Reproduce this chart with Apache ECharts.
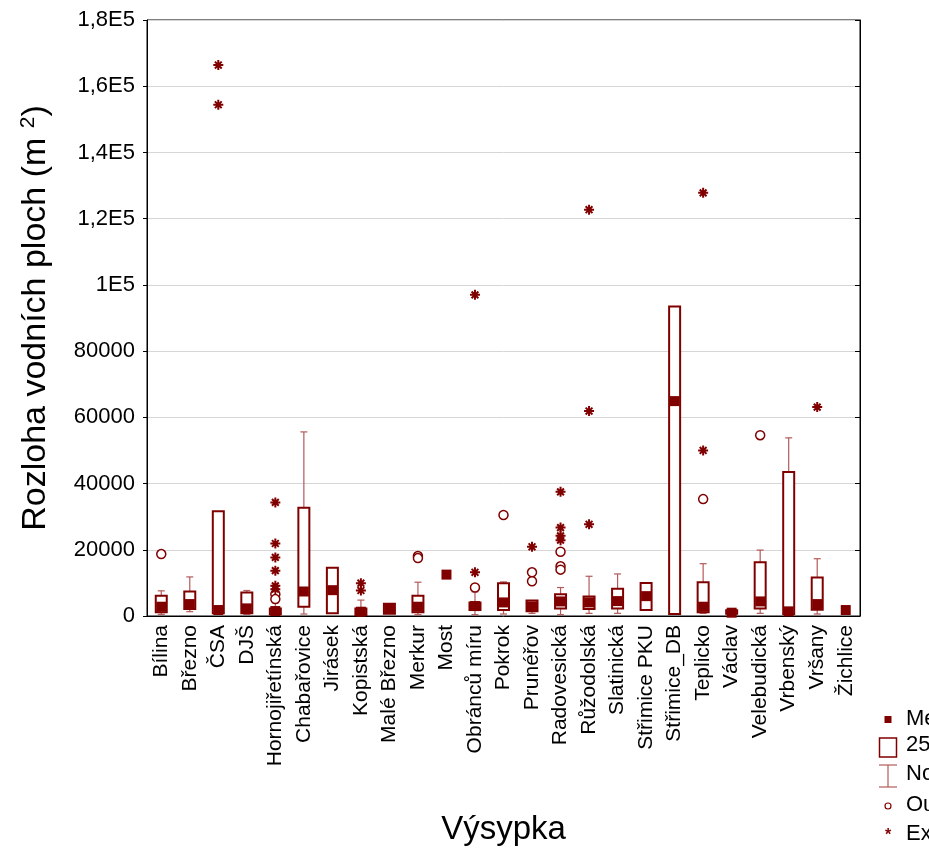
<!DOCTYPE html>
<html><head><meta charset="utf-8">
<script src="https://cdn.jsdelivr.net/npm/echarts@6/dist/echarts.min.js"></script>
<style>html,body{margin:0;padding:0;background:#fff;}#c{width:929px;height:851px;}</style>
</head><body><div id="c"></div>
<script>
const categories = ['Bílina','Březno','ČSA','DJŠ','Hornojiřetínská','Chabařovice','Jirásek','Kopistská','Malé Březno','Merkur','Most','Obránců míru','Pokrok','Prunéřov','Radovesická','Růžodolská','Slatinická','Střimice PKU','Střimice_DB','Teplicko','Václav','Velebudická','Vrbenský','Vršany','Žichlice'];
const q1Values      = [1100, 2100,  800,  800,  500,  2800,   800,  300,  700, 1100, null, 1800, 1800, 1400, 2300, 2100, 2300,  1800,   600,  1100,  700,  2300,   600,  1900, null];
const q3Values      = [6100, 7400, 31600, 7100, 2300, 32700, 14600, 2300, 3700, 6100, null, 4100, 9900, 4700, 6600, 5900, 8200, 10000, 93500, 10200, 1700, 16200, 43500, 11600, null];
const medianValues  = [2800, 3600, 1800, 2300, 1500,  7400,  7800, 1300, 2200, 2800, 12500, 3000, 4100, 2900, 4400, 4100, 4500,  6000, 64900,  2800, 1000,  4400,  1400,  3600, 1800];
const whiskerLow    = [ 500, 1300,  500,  500,  200,   600,   800,  300,  700,  400, null,  400,  600,  800,  400,  800,  800,  1800,   600,   800,  300,   800,   400,   600, null];
const whiskerHigh   = [7600, 11800, 31600, 7700, 4000, 55600, 14600, 4800, 3700, 10200, null, 7300, 10300, 4700, 8600, 12000, 12700, 10000, 93500, 15800, 1900, 19900, 53800, 17300, null];
const outlierPoints = [
  ['Bílina', 18700], ['Hornojiřetínská', 6600], ['Hornojiřetínská', 5100],
  ['Merkur', 18100], ['Merkur', 17500], ['Obránců míru', 8600], ['Pokrok', 30500],
  ['Prunéřov', 13200], ['Prunéřov', 10500],
  ['Radovesická', 19400], ['Radovesická', 15000], ['Radovesická', 14000],
  ['Teplicko', 35300], ['Velebudická', 54600]
];
const extremePoints = [
  ['ČSA', 166400], ['ČSA', 154400],
  ['Hornojiřetínská', 34300], ['Hornojiřetínská', 21900], ['Hornojiřetínská', 17700], ['Hornojiřetínská', 13700], ['Hornojiřetínská', 9100], ['Hornojiřetínská', 8100],
  ['Kopistská', 9900], ['Kopistská', 7700],
  ['Obránců míru', 97000], ['Obránců míru', 13200],
  ['Prunéřov', 20900],
  ['Radovesická', 37500], ['Radovesická', 26700], ['Radovesická', 24200], ['Radovesická', 22900],
  ['Růžodolská', 122700], ['Růžodolská', 61900], ['Růžodolská', 27700],
  ['Teplicko', 127800], ['Teplicko', 50000],
  ['Vršany', 63100]
];
const yTicks = {min: 0, max: 180000, interval: 20000};
const legendLabels = ['Median', '25%-75%', 'Non-Outlier Range', 'Outliers', 'Extremes'];

const DARK = '#800000', LIGHT = '#b35a5a';
const FONT = '"Liberation Sans", Arial, sans-serif';

const boxData = categories.map((c, i) => [i, q1Values[i], q3Values[i]]);
const whiskerData = categories.map((c, i) => [i, whiskerLow[i], whiskerHigh[i], q1Values[i], q3Values[i]]);
const medianData = categories.map((c, i) => [i, medianValues[i]]);
const outlierData = outlierPoints.map(p => [categories.indexOf(p[0]), p[1]]);
const extremeData = extremePoints.map(p => [categories.indexOf(p[0]), p[1]]);

const starPath = 'path://M5 0L5 10M0 5L10 5M1.6 1.6L8.4 8.4M8.4 1.6L1.6 8.4';

function yFmt(v) {
  if (v === 0) return '0';
  if (v < 100000) return String(v);
  const m = v / 100000;
  return (m === 1 ? '1' : String(m).replace('.', ',')) + 'E5';
}

const chart = echarts.init(document.getElementById('c'), null, {renderer: 'canvas'});
const lx = 888;
chart.setOption({
  animation: false,
  backgroundColor: '#fff',
  grid: {left: 147, right: 69, top: 20, bottom: 234, show: true, borderColor: '#000', borderWidth: 1, backgroundColor: 'transparent'},
  xAxis: {
    type: 'category', data: categories, boundaryGap: true,
    axisLine: {lineStyle: {color: '#000', width: 1}},
    axisTick: {show: false},
    axisLabel: {rotate: 90, fontSize: 21, color: '#000', fontFamily: FONT, margin: 9, interval: 0},
    name: 'Výsypka', nameLocation: 'middle', nameGap: 197,
    nameTextStyle: {fontSize: 33, color: '#000', fontFamily: FONT}
  },
  yAxis: [{
    type: 'value', min: yTicks.min, max: yTicks.max, interval: yTicks.interval,
    axisLine: {show: true, lineStyle: {color: '#000', width: 1}},
    axisTick: {show: true, length: 4, lineStyle: {color: '#000'}},
    axisLabel: {fontSize: 22, color: '#000', fontFamily: FONT, margin: 12, formatter: yFmt},
    splitLine: {show: true, lineStyle: {color: '#d6d6d6', width: 1}},
    name: 'Rozloha vodních ploch (m {sup|2})', nameLocation: 'middle', nameGap: 93,
    nameTextStyle: {fontSize: 34, color: '#000', fontFamily: FONT,
      rich: {sup: {fontSize: 21, fontFamily: FONT, color: '#000', verticalAlign: 'top', padding: [0, 0, 15, 0]}}}
  }, {
    type: 'value', position: 'right', min: yTicks.min, max: yTicks.max, interval: yTicks.interval,
    axisLine: {show: true, lineStyle: {color: '#000', width: 1}},
    axisTick: {show: true, inside: true, length: 5, lineStyle: {color: '#000'}},
    axisLabel: {show: false}, splitLine: {show: false}
  }],
  series: [
    {
      name: 'Non-Outlier Range', type: 'custom', z: 1, data: whiskerData,
      encode: {x: 0, y: [1, 2]},
      renderItem: function (params, api) {
        const i = api.value(0), lo = api.value(1), hi = api.value(2), a = api.value(3), b = api.value(4);
        if (lo == null || isNaN(lo)) return null;
        const children = [];
        const cw = 3.5;
        const st = {stroke: LIGHT, lineWidth: 1.2};
        if (hi > b) {
          const p1 = api.coord([i, b]), p2 = api.coord([i, hi]);
          children.push({type: 'line', shape: {x1: p1[0], y1: p1[1], x2: p2[0], y2: p2[1]}, style: st});
          children.push({type: 'line', shape: {x1: p2[0] - cw, y1: p2[1], x2: p2[0] + cw, y2: p2[1]}, style: st});
        }
        if (lo < a) {
          const p1 = api.coord([i, a]), p2 = api.coord([i, lo]);
          children.push({type: 'line', shape: {x1: p1[0], y1: p1[1], x2: p2[0], y2: p2[1]}, style: st});
          children.push({type: 'line', shape: {x1: p2[0] - cw, y1: p2[1], x2: p2[0] + cw, y2: p2[1]}, style: st});
        }
        return {type: 'group', children: children};
      }
    },
    {
      name: '25%-75%', type: 'custom', z: 2, data: boxData,
      encode: {x: 0, y: [1, 2]},
      renderItem: function (params, api) {
        const i = api.value(0), a = api.value(1), b = api.value(2);
        if (a == null || isNaN(a)) return null;
        const pTop = api.coord([i, b]), pBot = api.coord([i, a]);
        const w = 11;
        return {type: 'rect', shape: {x: pTop[0] - w / 2, y: pTop[1], width: w, height: Math.max(pBot[1] - pTop[1], 2)},
          style: {fill: '#fff', stroke: DARK, lineWidth: 2}};
      }
    },
    {
      name: 'Median', type: 'scatter', z: 3, data: medianData,
      symbol: 'rect', symbolSize: 10, itemStyle: {color: DARK, opacity: 1}
    },
    {
      name: 'Outliers', type: 'scatter', z: 3, data: outlierData,
      symbol: 'circle', symbolSize: 9, itemStyle: {color: '#fff', borderColor: DARK, borderWidth: 1.5, opacity: 1}
    },
    {
      name: 'Extremes', type: 'scatter', z: 3, data: extremeData,
      symbol: starPath, symbolSize: 10, itemStyle: {color: 'none', borderColor: DARK, borderWidth: 2, opacity: 1}
    }
  ],
  graphic: [
    {type: 'rect', shape: {x: lx - 3.5, y: 716, width: 7, height: 7}, style: {fill: DARK}},
    {type: 'rect', shape: {x: lx - 8.5, y: 738, width: 17, height: 19}, style: {fill: '#fff', stroke: DARK, lineWidth: 1.5}},
    {type: 'line', shape: {x1: lx, y1: 765, x2: lx, y2: 787}, style: {stroke: LIGHT, lineWidth: 1.2}},
    {type: 'line', shape: {x1: lx - 9, y1: 765, x2: lx + 9, y2: 765}, style: {stroke: LIGHT, lineWidth: 1.2}},
    {type: 'line', shape: {x1: lx - 9, y1: 787, x2: lx + 9, y2: 787}, style: {stroke: LIGHT, lineWidth: 1.2}},
    {type: 'circle', shape: {cx: lx, cy: 806, r: 3}, style: {fill: '#fff', stroke: DARK, lineWidth: 1.2}},
    {type: 'text', x: lx, y: 836, style: {text: '*', font: 'bold 16px ' + FONT, fill: DARK, align: 'center', verticalAlign: 'middle'}},
    {type: 'text', x: 906, y: 719, style: {text: legendLabels[0], font: '22px ' + FONT, fill: '#000', verticalAlign: 'middle'}},
    {type: 'text', x: 906, y: 745, style: {text: legendLabels[1], font: '22px ' + FONT, fill: '#000', verticalAlign: 'middle'}},
    {type: 'text', x: 906, y: 774, style: {text: legendLabels[2], font: '22px ' + FONT, fill: '#000', verticalAlign: 'middle'}},
    {type: 'text', x: 906, y: 805, style: {text: legendLabels[3], font: '22px ' + FONT, fill: '#000', verticalAlign: 'middle'}},
    {type: 'text', x: 906, y: 834, style: {text: legendLabels[4], font: '22px ' + FONT, fill: '#000', verticalAlign: 'middle'}}
  ]
});
</script></body></html>
